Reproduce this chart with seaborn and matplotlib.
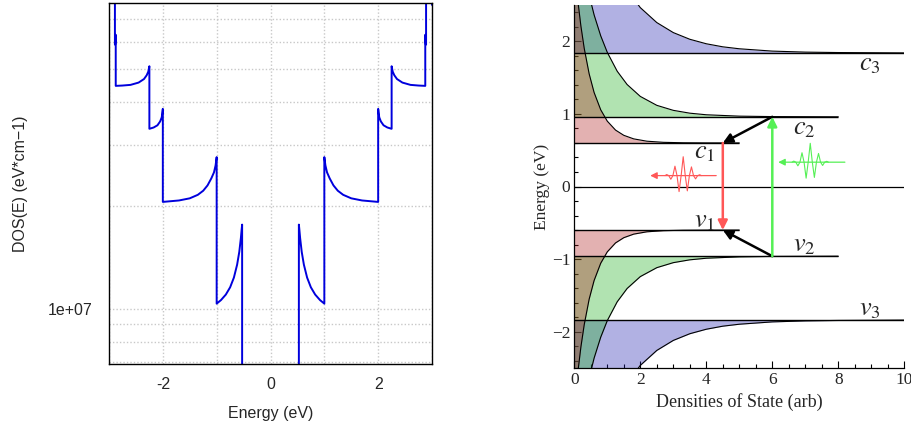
import numpy as np
import matplotlib
matplotlib.use("Agg")
import matplotlib.pyplot as plt
import seaborn as sns
from matplotlib.ticker import (FixedLocator, FixedFormatter, MultipleLocator,
                               LogLocator, NullFormatter, FuncFormatter)

# ---------------- left panel: DOS, positive-energy half (mirrored for E < 0)
seg1_e = [0.527, 0.527, 0.535, 0.55, 0.58, 0.62, 0.68, 0.75, 0.83, 0.92, 1.0]
seg1_d = [5e6, 1.76e7, 1.71e7, 1.61e7, 1.465e7, 1.345e7, 1.233e7, 1.155e7, 1.10e7, 1.06e7, 1.035e7]
seg2_e = [1.0, 1.02, 1.05, 1.1, 1.17, 1.25, 1.35, 1.5, 1.7, 2.0]
seg2_d = [2.77e7, 2.62e7, 2.50e7, 2.40e7, 2.29e7, 2.21e7, 2.15e7, 2.10e7, 2.07e7, 2.05e7]
seg3_e = [2.0, 2.02, 2.05, 2.1, 2.17, 2.25]
seg3_d = [3.83e7, 3.62e7, 3.52e7, 3.43e7, 3.38e7, 3.35e7]
seg4_e = [2.25, 2.27, 2.3, 2.35, 2.45, 2.6, 2.75, 2.875]
seg4_d = [5.1e7, 4.92e7, 4.8e7, 4.68e7, 4.57e7, 4.5e7, 4.48e7, 4.47e7]
seg5_e = [2.875, 2.885, 2.89, 2.89, 2.97, 3.0]
seg5_d = [6.3e7, 5.9e7, 5.9e7, 9e7, 9e7, 7.7e7]

# ---------------- right panel: band edges and DOS tails (height above edge)
band_level = [0.6, 0.96, 1.84]          # c1, c2, c3 (valence mirrored)
band_end = [5, 8, 10]
band_name = ["1", "2", "3"]
band_color = ["#b02020", "#20b020", "#2020b0"]

c1_x = [0, 0.1, 0.2, 0.3, 0.45, 0.6, 0.8, 1.0, 1.25, 1.5, 1.8, 2.2, 2.7, 3.3, 4.0, 5.0]
c1_d = [2.45, 1.986, 1.61, 1.305, 0.952, 0.695, 0.457, 0.300, 0.177, 0.105, 0.056, 0.024,
        0.0085, 0.0024, 0.0005, 0.0]
c2_x = [0, 0.2, 0.4, 0.6, 0.8, 1.0, 1.3, 1.6, 2.0, 2.5, 3.0, 3.5, 4.0, 5.0, 6.0, 8.0]
c2_d = [2.8, 2.225, 1.768, 1.404, 1.116, 0.887, 0.628, 0.445, 0.281, 0.158, 0.089, 0.050,
        0.028, 0.009, 0.003, 0.0]
c3_x = [0, 0.5, 1.0, 1.5, 2.0, 2.5, 3.0, 3.5, 4.0, 4.5, 5.0, 6.0, 7.0, 8.0, 10.0]
c3_d = [3.09, 2.07, 1.388, 0.931, 0.624, 0.418, 0.280, 0.188, 0.126, 0.084, 0.057, 0.025,
        0.011, 0.005, 0.0]

# transitions: (x_from, E_from, x_to, E_to)
relax_arrows = [(6.0, 0.96, 4.5, 0.6), (6.0, -0.96, 4.5, -0.6)]
emit_arrow = (4.5, 0.6, 4.5, -0.6)
absorb_arrow = (6.0, -0.96, 6.0, 0.96)

# photon wave packets (offsets from centre)
packet_dx = [-0.55, -0.5, -0.4375, -0.375, -0.3125, -0.25, -0.1875, -0.125, -0.0625, 0,
             0.0625, 0.125, 0.1875, 0.25, 0.3125, 0.375, 0.4375, 0.5, 0.55]
packet_dy = [0, 0.015, 0, -0.05, 0, 0.13, 0, -0.22, 0, 0.26, 0, -0.21, 0, 0.12, 0,
             -0.045, 0, 0.012, 0]
red_packet = dict(center=(3.3, 0.15), start=4.3, stop=2.3)
green_packet = dict(center=(7.15, 0.335), start=8.2, stop=6.18)

RED = "#ff5757"
GREEN = "#55f055"

sns.set_style("white")
plt.rcParams["font.family"] = ["Liberation Sans", "DejaVu Sans"]
plt.rcParams["axes.unicode_minus"] = False
plt.rcParams["mathtext.fontset"] = "stix"

fig = plt.figure(figsize=(9.12, 4.29), dpi=100)

# ================= left panel
ax = fig.add_axes([109 / 912, 1 - 364 / 429, 323 / 912, 361 / 429])
e_pos = np.concatenate([seg1_e, seg2_e, seg3_e, seg4_e, seg5_e])
d_pos = np.concatenate([seg1_d, seg2_d, seg3_d, seg4_d, seg5_d])
for sign in (1, -1):
    sns.lineplot(x=sign * e_pos, y=d_pos, sort=False, estimator=None, ax=ax,
                 color="#0000dd", linewidth=1.4)
ax.set_yscale("log")
ax.set_xlim(-3, 3)
ax.set_ylim(6.9e6, 7.8e7)
ax.xaxis.set_major_locator(MultipleLocator(2))
ax.xaxis.set_minor_locator(MultipleLocator(1))
ax.yaxis.set_major_locator(FixedLocator([1e7]))
ax.yaxis.set_major_formatter(FixedFormatter(["1e+07"]))
ax.yaxis.set_minor_locator(LogLocator(base=10, subs=np.arange(2, 10)))
ax.yaxis.set_minor_formatter(NullFormatter())
ax.grid(True, which="both", color="#c8c8c8", linestyle=(0, (1, 1.5)), linewidth=1.0)
ax.tick_params(which="both", direction="out", width=1.0, labelsize=11.5, color="black")
ax.tick_params(axis="y", which="major", length=6, pad=6)
ax.tick_params(axis="y", which="minor", length=3.5)
ax.tick_params(axis="x", which="both", length=3.5, pad=6)
for sp in ax.spines.values():
    sp.set_linewidth(1.0)
    sp.set_color("black")
ax.set_xlabel("Energy (eV)", fontsize=11.5)
ax.set_ylabel("DOS(E) (eV*cm\u22121)", fontsize=11.5)
ax.xaxis.set_label_coords(0.5, -0.115)
ax.yaxis.set_label_coords(-0.25, 0.5)

# ================= right panel
SERIF = "Liberation Serif"
ax2 = fig.add_axes([574.3 / 912, 1 - 368 / 429, 330 / 912, 363 / 429])
ax2.set_xlim(0, 10)
ax2.set_ylim(-2.5, 2.5)

tails = [(c1_x, c1_d), (c2_x, c2_d), (c3_x, c3_d)]
for i in (2, 1, 0):
    lvl, col = band_level[i], band_color[i]
    x, d = np.array(tails[i][0]), np.array(tails[i][1])
    for sign in (1, -1):
        ax2.fill_between(x, sign * lvl, sign * (lvl + d), color=col, alpha=0.35, linewidth=0)
for i in range(3):
    lvl = band_level[i]
    x, d = np.array(tails[i][0]), np.array(tails[i][1])
    for sign in (1, -1):
        sns.lineplot(x=x, y=sign * (lvl + d), sort=False, estimator=None, ax=ax2,
                     color="black", linewidth=0.8)
        ax2.hlines(sign * lvl, 0, band_end[i], color="black", linewidth=1.0)
ax2.hlines(0, 0, 10, color="black", linewidth=0.9)


def arrow(a, color, lw, ms):
    ax2.annotate("", xy=(a[2], a[3]), xytext=(a[0], a[1]),
                 arrowprops=dict(arrowstyle="-|>", color=color, lw=lw,
                                 mutation_scale=ms, shrinkA=0, shrinkB=0))


for a in relax_arrows:
    arrow(a, "black", 1.8, 14)
arrow(emit_arrow, RED, 1.8, 14)
arrow(absorb_arrow, GREEN, 1.8, 14)

for pk, col in ((red_packet, RED), (green_packet, GREEN)):
    cx, cy = pk["center"]
    arrow((pk["start"], cy, pk["stop"], cy), col, 0.9, 10)
    ax2.plot(cx + np.array(packet_dx), cy + np.array(packet_dy), color=col, linewidth=0.8)

label_pos = [(3.96, 0.47), (6.97, 0.81), (8.96, 1.69)]
for i, (lx, ly) in enumerate(label_pos):
    ax2.text(lx, ly, rf"$c_{band_name[i]}$", fontsize=19, ha="center", va="center")
    ax2.text(lx, -ly, rf"$v_{band_name[i]}$", fontsize=19, ha="center", va="center")

for side in ("top", "right"):
    ax2.spines[side].set_visible(False)
for side in ("left", "bottom"):
    ax2.spines[side].set_linewidth(0.9)
    ax2.spines[side].set_color("black")
ax2.xaxis.set_major_locator(MultipleLocator(2))
ax2.xaxis.set_minor_locator(MultipleLocator(0.5))
ax2.yaxis.set_major_locator(MultipleLocator(1))
ax2.yaxis.set_minor_locator(MultipleLocator(0.2))
fmt = FuncFormatter(lambda v, p: f"{v:g}".replace("-", "\u2212"))
ax2.xaxis.set_major_formatter(fmt)
ax2.yaxis.set_major_formatter(fmt)
ax2.tick_params(which="both", direction="in", left=True, bottom=True, width=0.8,
                labelsize=12.5, labelfontfamily=SERIF, pad=3, color="black")
ax2.tick_params(which="major", length=5)
ax2.tick_params(which="minor", length=2.8)
ax2.set_xlabel("Densities of State (arb)", fontsize=13, fontfamily=SERIF)
ax2.set_ylabel("Energy (eV)", fontsize=12.5, fontfamily=SERIF)
ax2.xaxis.set_label_coords(0.5, -0.068)
ax2.yaxis.set_label_coords(-0.075, 0.5)

fig.savefig("out.png", dpi=100)
